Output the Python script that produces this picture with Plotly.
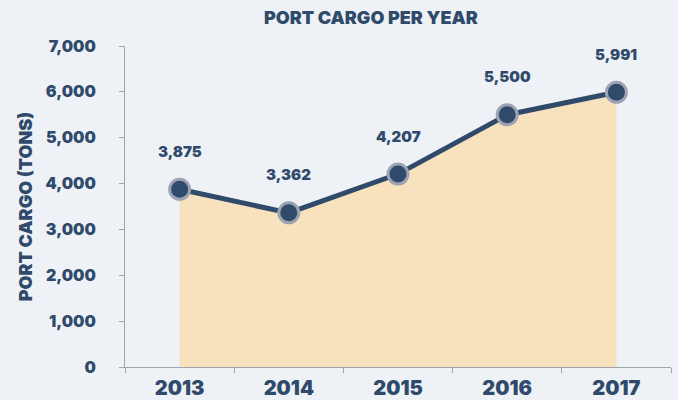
import plotly.graph_objects as go

years = ["2013", "2014", "2015", "2016", "2017"]
cargo = [3875, 3362, 4207, 5500, 5991]
labels = ["3,875", "3,362", "4,207", "5,500", "5,991"]
y_ticks = [0, 1000, 2000, 3000, 4000, 5000, 6000, 7000]
y_tick_text = ["0", "1,000", "2,000", "3,000", "4,000", "5,000", "6,000", "7,000"]

DARK = "#2F4A6A"
FONT = "Inter"
W = 900

fig = go.Figure()
fig.add_trace(go.Scatter(
    x=years, y=cargo, mode="lines+markers",
    fill="tozeroy", fillcolor="#F8E2BE",
    line=dict(color=DARK, width=5),
    marker=dict(size=20, color=DARK, line=dict(color="#9EA3B4", width=3)),
    hoverinfo="skip",
))

for i, (y, t) in enumerate(zip(cargo, labels)):
    fig.add_annotation(x=i, y=y, xref="x", yref="y", text=t, showarrow=False, yshift=38,
                       font=dict(family=FONT, size=15, color=DARK, weight=W))

fig.update_layout(
    width=678, height=400,
    paper_bgcolor="#EEF2F6", plot_bgcolor="#EEF2F6",
    margin=dict(l=125, r=7, t=46, b=33, autoexpand=False),
    showlegend=False,
    title=dict(text="PORT CARGO PER YEAR", x=0.547, xanchor="center", y=0.955, yanchor="middle",
               font=dict(family=FONT, size=18, color=DARK, weight=W)),
    font=dict(family=FONT, color=DARK),
)
fig.update_xaxes(
    type="category", range=[-0.5, 4.5], tickson="boundaries",
    ticks="outside", ticklen=5, tickcolor="#A0A4AC", tickwidth=1,
    showline=True, linecolor="#A0A4AC", linewidth=1, automargin=False,
    showgrid=False, zeroline=False, ticklabelstandoff=3,
    tickfont=dict(family=FONT, size=20, color=DARK, weight=W),
)
fig.update_yaxes(
    range=[0, 7000], tickvals=y_ticks, ticktext=y_tick_text,
    ticks="outside", ticklen=5, tickcolor="#A0A4AC", tickwidth=1,
    showline=True, linecolor="#A0A4AC", linewidth=1, automargin=False,
    showgrid=False, zeroline=False, ticklabelstandoff=20,
    tickfont=dict(family=FONT, size=16, color=DARK, weight=W),
    title=dict(text="PORT CARGO (TONS)", standoff=8,
               font=dict(family=FONT, size=18, color=DARK, weight=W)),
)

fig.write_html("out.html", config={"displayModeBar": False},
               post_script="document.body.style.margin='0';")
